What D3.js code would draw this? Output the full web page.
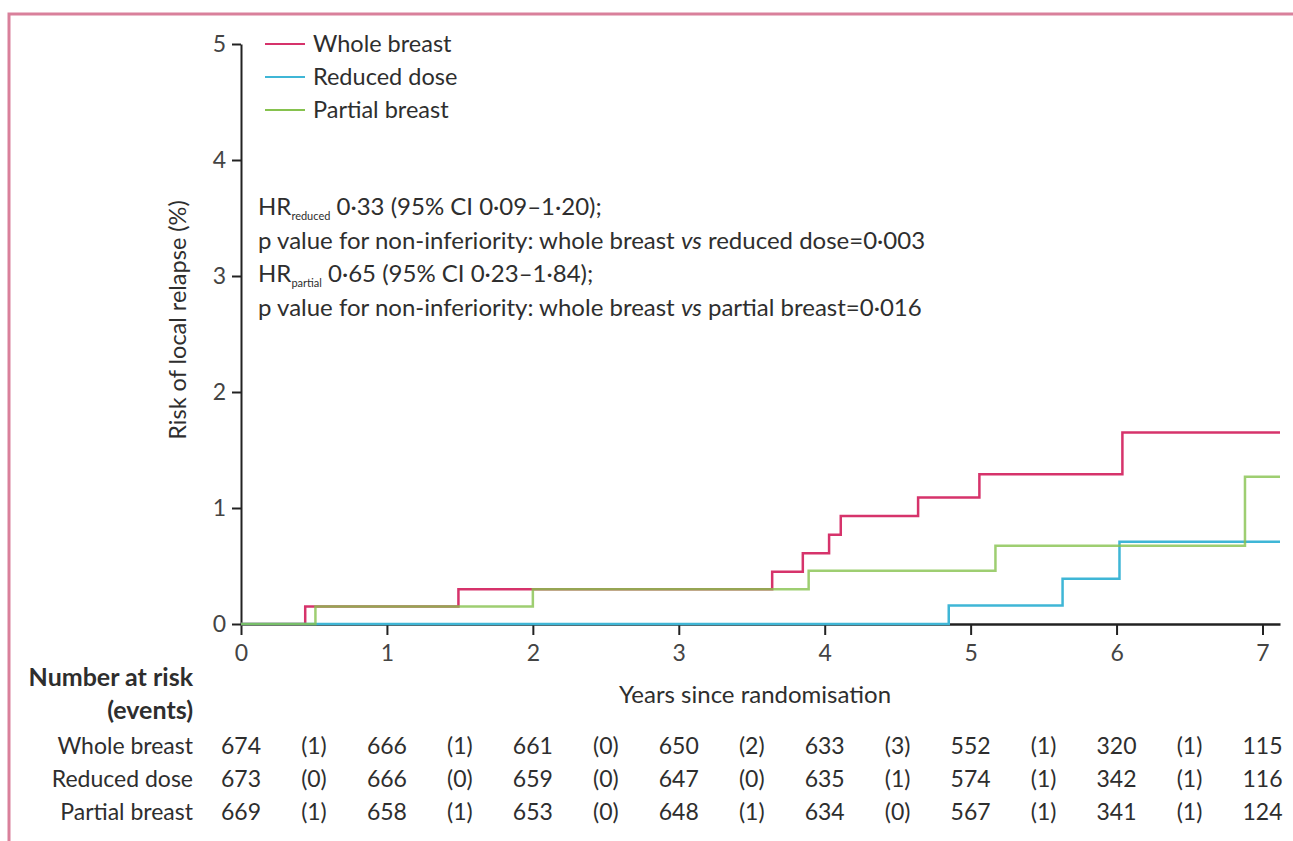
<!DOCTYPE html>
<html>
<head>
<meta charset="utf-8">
<script src="https://cdn.jsdelivr.net/npm/d3@7"></script>
<style>
  body { margin: 0; background: #fff; }
  svg { display: block; font-family: Lato, "Open Sans", sans-serif; }
</style>
</head>
<body>
<div id="chart"></div>
<script>
// series names and colours
const seriesNames = ["Whole breast", "Reduced dose", "Partial breast"];
const seriesColors = ["#d6336b", "#3fb6d6", "#86c24e"];

// Kaplan-Meier style step data (years, cumulative risk %)
const wholeTimes = [0, 0.44, 1.49, 3.64, 3.85, 4.03, 4.11, 4.64, 5.06, 6.04, 7.12];
const wholeRisk  = [0, 0.15, 0.30, 0.45, 0.61, 0.77, 0.93, 1.09, 1.29, 1.65, 1.65];
const reducedTimes = [0, 4.85, 5.63, 6.02, 7.12];
const reducedRisk  = [0, 0.16, 0.39, 0.71, 0.71];
const partialTimes = [0, 0.51, 2.0, 3.89, 5.17, 6.88, 7.12];
const partialRisk  = [0, 0.15, 0.30, 0.46, 0.675, 1.27, 1.27];

// axis ticks
const xTicks = [0, 1, 2, 3, 4, 5, 6, 7];
const yTicks = [0, 1, 2, 3, 4, 5];

// number at risk / events tables
const atRiskWhole   = [674, 666, 661, 650, 633, 552, 320, 115];
const atRiskReduced = [673, 666, 659, 647, 635, 574, 342, 116];
const atRiskPartial = [669, 658, 653, 648, 634, 567, 341, 124];
const eventsWhole   = [1, 1, 0, 2, 3, 1, 1];
const eventsReduced = [0, 0, 0, 0, 1, 1, 1];
const eventsPartial = [1, 1, 0, 1, 0, 1, 1];

const zip = (t, v) => t.map((d, i) => ({t: d, v: v[i]}));
const series = [
    {name: seriesNames[0], color: seriesColors[0], values: zip(wholeTimes, wholeRisk), atRisk: atRiskWhole, events: eventsWhole, opacity: 1},
    {name: seriesNames[1], color: seriesColors[1], values: zip(reducedTimes, reducedRisk), atRisk: atRiskReduced, events: eventsReduced, opacity: 1},
    {name: seriesNames[2], color: seriesColors[2], values: zip(partialTimes, partialRisk), atRisk: atRiskPartial, events: eventsPartial, opacity: 0.8}
];

const W = 1293, H = 841;
const textColor = "#2e2e2e";

let svg = d3.select("#chart")
    .append("svg")
        .attr("width", W)
        .attr("height", H);

// pink frame
svg.append("path")
    .attr("d", "M9,850 V14 H1300")
    .attr("fill", "none")
    .attr("stroke", "#d9809b")
    .attr("stroke-width", 3);

let x = d3.scaleLinear()
    .domain([0, 7.12])
    .range([241, 1280]);

let y = d3.scaleLinear()
    .domain([0, 5])
    .range([624, 44]);

// y axis
let yAxis = svg.append("g")
    .attr("transform", `translate(${x(0)},0)`)
    .call(d3.axisLeft(y).tickValues(yTicks).tickFormat(d3.format("d"))
        .tickSize(9).tickSizeOuter(0).tickPadding(6));
yAxis.select(".domain").attr("stroke", "#222").attr("stroke-width", 2);
yAxis.selectAll(".tick line").attr("stroke", "#222").attr("stroke-width", 2);
yAxis.selectAll(".tick text")
    .attr("font-size", 23)
    .attr("font-family", "Lato, sans-serif")
    .attr("fill", "#444");

// x axis
let xAxis = svg.append("g")
    .attr("transform", `translate(0,${y(0)})`)
    .call(d3.axisBottom(x).tickValues(xTicks).tickSize(11).tickSizeOuter(0).tickPadding(10));
xAxis.select(".domain").attr("stroke", "#222").attr("stroke-width", 2.5);
xAxis.selectAll(".tick line").attr("stroke", "#222").attr("stroke-width", 2);
xAxis.selectAll(".tick text")
    .attr("font-size", 23)
    .attr("font-family", "Lato, sans-serif")
    .attr("fill", "#444");

// axis titles
svg.append("text")
    .attr("transform", `translate(186,320) rotate(-90)`)
    .attr("text-anchor", "middle")
    .attr("font-size", 23.5)
    .attr("fill", textColor)
    .text("Risk of local relapse (%)");

svg.append("text")
    .attr("x", 755)
    .attr("y", 703)
    .attr("text-anchor", "middle")
    .attr("font-size", 24)
    .attr("fill", textColor)
    .text("Years since randomisation");

// step curves
let line = d3.line()
    .x(d => x(d.t))
    .y(d => y(d.v))
    .curve(d3.curveStepAfter);

svg.append("g")
    .selectAll("path")
    .data(series)
    .join("path")
        .attr("d", d => line(d.values))
        .attr("fill", "none")
        .attr("stroke", d => d.color)
        .attr("stroke-opacity", d => d.opacity)
        .attr("stroke-width", 2.5);

// legend
let legend = svg.append("g")
    .selectAll("g")
    .data(series)
    .join("g")
        .attr("transform", (d, i) => `translate(265,${44 + i * 33})`);
legend.append("line")
    .attr("x1", 0).attr("x2", 40)
    .attr("stroke", d => d.color)
    .attr("stroke-width", 2);
legend.append("text")
    .attr("x", 48)
    .attr("dy", "0.35em")
    .attr("font-size", 23.5)
    .attr("fill", textColor)
    .text(d => d.name);

// annotation
let notes = [
    {hr: "reduced", rest: " 0·33 (95% CI 0·09–1·20);"},
    {text: "p value for non-inferiority: whole breast vs reduced dose=0·003"},
    {hr: "partial", rest: " 0·65 (95% CI 0·23–1·84);"},
    {text: "p value for non-inferiority: whole breast vs partial breast=0·016"}
];
let noteG = svg.append("g").attr("font-size", 24).attr("fill", textColor);
notes.forEach((n, i) => {
    let t = noteG.append("text")
        .attr("x", 258)
        .attr("y", 215 + i * 33.5);
    if (n.hr) {
        t.append("tspan").text("HR");
        t.append("tspan").attr("font-size", 11).attr("dy", 5).text(n.hr);
        t.append("tspan").attr("dy", -5).text(n.rest);
    } else {
        let parts = n.text.split(" vs ");
        t.append("tspan").text(parts[0] + " ");
        t.append("tspan").attr("font-style", "italic").text("vs");
        t.append("tspan").text(" " + parts[1]);
    }
});

// number at risk table
let table = svg.append("g").attr("font-size", 23).attr("fill", textColor);
table.append("text")
    .attr("x", 193).attr("y", 686)
    .attr("text-anchor", "end")
    .attr("font-size", 25)
    .attr("font-weight", "bold")
    .text("Number at risk");
table.append("text")
    .attr("x", 193).attr("y", 719)
    .attr("text-anchor", "end")
    .attr("font-size", 25)
    .attr("font-weight", "bold")
    .text("(events)");

series.forEach((s, r) => {
    let rowY = 754 + r * 33;
    table.append("text")
        .attr("x", 193).attr("y", rowY)
        .attr("text-anchor", "end")
        .text(s.name);
    table.append("g")
        .selectAll("text")
        .data(s.atRisk)
        .join("text")
            .attr("x", (d, i) => x(xTicks[i]))
            .attr("y", rowY)
            .attr("text-anchor", "middle")
            .text(d => d);
    table.append("g")
        .selectAll("text")
        .data(s.events)
        .join("text")
            .attr("x", (d, i) => x(xTicks[i] + 0.5))
            .attr("y", rowY)
            .attr("text-anchor", "middle")
            .text(d => `(${d})`);
});
</script>
</body>
</html>
